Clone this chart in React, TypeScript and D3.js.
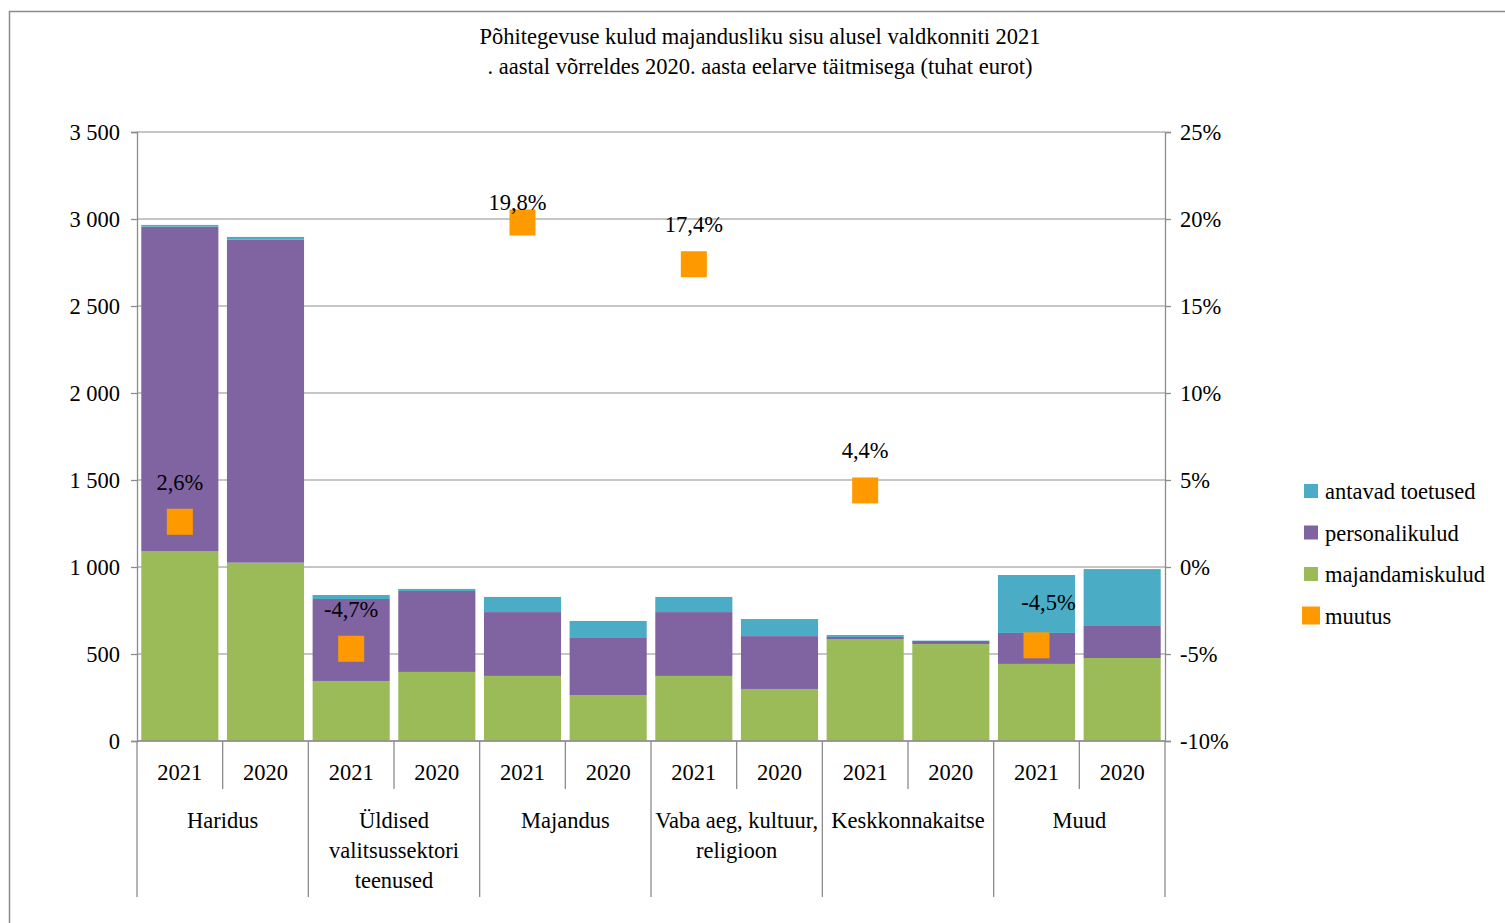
import React, { useEffect, useRef } from "react";
import * as d3 from "d3";

const categories = [
  ["Haridus"],
  ["Üldised", "valitsussektori", "teenused"],
  ["Majandus"],
  ["Vaba aeg, kultuur,", "religioon"],
  ["Keskkonnakaitse"],
  ["Muud"],
];
const years = ["2021", "2020"];

// one value per bar, in order: category × year
const majandamiskulud = [1092, 1025, 345, 397, 374, 264, 374, 299, 586, 557, 443, 477];
const personalikulud = [1864, 1856, 471, 465, 367, 328, 367, 304, 12, 18, 178, 184];
const antavadToetused = [10, 16, 23, 12, 87, 98, 87, 98, 11, 2, 333, 327];
const muutus = [2.6, -4.7, 19.8, 17.4, 4.4, -4.5];

const leftTicks = [0, 500, 1000, 1500, 2000, 2500, 3000, 3500];
const rightTicks = [-10, -5, 0, 5, 10, 15, 20, 25];

const titleLines = [
  "Põhitegevuse kulud majandusliku sisu alusel valdkonniti 2021",
  ". aastal võrreldes 2020. aasta eelarve täitmisega (tuhat eurot)",
];

const seriesKeys = ["majandamiskulud", "personalikulud", "antavad toetused"];
const colors: Record<string, string> = {
  "antavad toetused": "#4bacc6",
  personalikulud: "#8064a2",
  majandamiskulud: "#9bbb59",
  muutus: "#ff9900",
};
const legendItems = ["antavad toetused", "personalikulud", "majandamiskulud", "muutus"];

// label nudges (px) for the muutus labels, as placed in the original
const labelNudge = [
  [0, 0],
  [0, 0],
  [-5, 20],
  [0, 0],
  [0, 0],
  [12, -3],
];

const W = 1505,
  H = 923;
const plot = { left: 137, right: 1165, top: 132, bottom: 741 };
const font = "'Liberation Serif', 'Times New Roman', serif";
const fs = 22.5;

const locale = d3.formatLocale({
  decimal: ",",
  thousands: " ",
  grouping: [3],
  currency: ["", ""],
});
const fmtLeft = locale.format(",d");
const fmtPct = locale.format(".1f");

export default function App(): JSX.Element {
  const ref = useRef<SVGSVGElement>(null);

  useEffect(() => {
    if (!ref.current) return;
    const svg = d3.select(ref.current);
    svg.selectAll("*").remove();

    const bars = categories.flatMap((c, ci) =>
      years.map((yr, yi) => {
        const i = ci * years.length + yi;
        return {
          id: `${ci}-${yr}`,
          year: yr,
          majandamiskulud: majandamiskulud[i],
          personalikulud: personalikulud[i],
          "antavad toetused": antavadToetused[i],
        } as any;
      })
    );

    const x = d3
      .scaleBand()
      .domain(bars.map((d) => d.id))
      .range([plot.left, plot.right])
      .paddingInner(0.1)
      .paddingOuter(0.05);
    const step = x.step();
    const x0 = plot.left;

    const y = d3.scaleLinear().domain([0, 3500]).range([plot.bottom, plot.top]);
    const y2 = d3.scaleLinear().domain([-10, 25]).range([plot.bottom, plot.top]);

    // frame
    svg
      .append("rect")
      .attr("x", 9.5)
      .attr("y", 11.5)
      .attr("width", W)
      .attr("height", H)
      .attr("fill", "white")
      .attr("stroke", "#8c8c8c")
      .attr("stroke-width", 1.5);

    // title
    svg
      .append("g")
      .selectAll("text")
      .data(titleLines)
      .join("text")
      .attr("x", 760)
      .attr("y", (d, i) => 44 + i * 30)
      .attr("text-anchor", "middle")
      .attr("font-family", font)
      .attr("font-size", fs)
      .attr("fill", "#000")
      .text((d) => d);

    // gridlines
    svg
      .append("g")
      .selectAll("line")
      .data(leftTicks)
      .join("line")
      .attr("x1", plot.left)
      .attr("x2", plot.right)
      .attr("y1", (d) => y(d))
      .attr("y2", (d) => y(d))
      .attr("stroke", "#b3b3b3")
      .attr("stroke-width", 1.3);

    // stacked bars
    const stack = d3.stack().keys(seriesKeys)(bars);
    svg
      .append("g")
      .selectAll("g")
      .data(stack)
      .join("g")
      .attr("fill", (s) => colors[s.key])
      .selectAll("rect")
      .data((s) => s)
      .join("rect")
      .attr("x", (d: any) => x(d.data.id) as number)
      .attr("width", x.bandwidth())
      .attr("y", (d) => y(d[1]))
      .attr("height", (d) => y(d[0]) - y(d[1]));

    // left axis
    const leftAxis = svg
      .append("g")
      .attr("transform", `translate(${plot.left},0)`)
      .call(
        d3
          .axisLeft(y)
          .tickValues(leftTicks)
          .tickSize(6)
          .tickPadding(11)
          .tickFormat((d) => fmtLeft(d as number))
      );
    leftAxis.selectAll("path,line").attr("stroke", "#8c8c8c").attr("stroke-width", 1.3);
    leftAxis.selectAll("text").attr("font-family", font).attr("font-size", fs).attr("fill", "#000");

    // right axis
    const rightAxis = svg
      .append("g")
      .attr("transform", `translate(${plot.right},0)`)
      .call(
        d3
          .axisRight(y2)
          .tickValues(rightTicks)
          .tickSize(6)
          .tickPadding(9)
          .tickFormat((d) => `${d}%`)
      );
    rightAxis.selectAll("path,line").attr("stroke", "#8c8c8c").attr("stroke-width", 1.3);
    rightAxis.selectAll("text").attr("font-family", font).attr("font-size", fs).attr("fill", "#000");

    // category axis
    const catG = svg.append("g");
    catG
      .append("line")
      .attr("x1", plot.left)
      .attr("x2", plot.right)
      .attr("y1", plot.bottom)
      .attr("y2", plot.bottom)
      .attr("stroke", "#8c8c8c")
      .attr("stroke-width", 1.3);
    const dividers = d3.range(bars.length + 1);
    catG
      .selectAll("line.div")
      .data(dividers)
      .join("line")
      .attr("class", "div")
      .attr("x1", (i) => x0 + i * step)
      .attr("x2", (i) => x0 + i * step)
      .attr("y1", plot.bottom)
      .attr("y2", (i) => (i % years.length === 0 ? 897 : 789))
      .attr("stroke", "#8c8c8c")
      .attr("stroke-width", 1.3);
    catG
      .selectAll("text.year")
      .data(bars)
      .join("text")
      .attr("class", "year")
      .attr("x", (d) => (x(d.id) as number) + x.bandwidth() / 2)
      .attr("y", 780)
      .attr("text-anchor", "middle")
      .attr("font-family", font)
      .attr("font-size", fs)
      .text((d) => d.year);
    catG
      .selectAll("text.cat")
      .data(categories)
      .join("text")
      .attr("class", "cat")
      .attr("x", (d, i) => x0 + (i * years.length + years.length / 2) * step)
      .attr("y", 828)
      .attr("text-anchor", "middle")
      .attr("font-family", font)
      .attr("font-size", fs)
      .selectAll("tspan")
      .data((d) => d)
      .join("tspan")
      .attr("x", function () {
        return (this.parentNode as any).getAttribute("x");
      })
      .attr("dy", (d, i) => (i === 0 ? 0 : 30))
      .text((d) => d);

    // muutus markers
    const markerData = muutus.map((v, ci) => ({ v, ci, id: bars[ci * years.length].id }));
    const ms = 26;
    const mG = svg.append("g");
    mG.selectAll("rect")
      .data(markerData)
      .join("rect")
      .attr("x", (d) => (x(d.id) as number) + x.bandwidth() / 2 - ms / 2)
      .attr("y", (d) => y2(d.v) - ms / 2)
      .attr("width", ms)
      .attr("height", ms)
      .attr("fill", colors.muutus);
    mG.selectAll("text")
      .data(markerData)
      .join("text")
      .attr("x", (d) => (x(d.id) as number) + x.bandwidth() / 2 + labelNudge[d.ci][0])
      .attr("y", (d) => y2(d.v) - 32 + labelNudge[d.ci][1])
      .attr("text-anchor", "middle")
      .attr("font-family", font)
      .attr("font-size", fs)
      .text((d) => `${fmtPct(d.v).replace("−", "-")}%`);

    // legend
    const lg = svg
      .append("g")
      .selectAll("g")
      .data(legendItems)
      .join("g")
      .attr("transform", (d, i) => `translate(1311, ${491 + i * 41.5})`);
    lg.append("rect")
      .attr("x", (d) => (d === "muutus" ? -9 : -7))
      .attr("y", (d) => (d === "muutus" ? -9 : -7))
      .attr("width", (d) => (d === "muutus" ? 18 : 14))
      .attr("height", (d) => (d === "muutus" ? 18 : 14))
      .attr("fill", (d) => colors[d]);
    lg.append("text")
      .attr("x", 14)
      .attr("y", 8)
      .attr("font-family", font)
      .attr("font-size", fs)
      .text((d) => d);
  }, []);

  return (
    <svg
      ref={ref}
      width={W}
      height={H}
      style={{ position: "absolute", left: 0, top: 0, background: "white" }}
    />
  );
}
